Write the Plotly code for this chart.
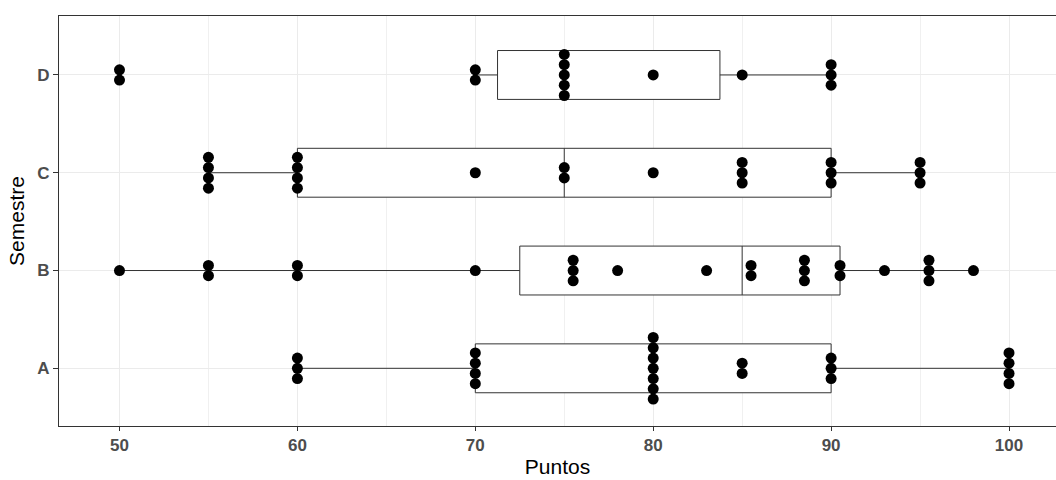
import plotly.graph_objects as go
from collections import Counter

# ---- data ----
semesters = ["A", "B", "C", "D"]

puntos_A = [60]*3 + [70]*4 + [80]*7 + [85]*2 + [90]*3 + [100]*4
puntos_B = [50] + [55]*2 + [60]*2 + [70] + [75.5]*3 + [78] + [83] + [85.5]*2 + [88.5]*3 + [90.5]*2 + [93] + [95.5]*3 + [98]
puntos_C = [55]*4 + [60]*4 + [70] + [75]*2 + [80] + [85]*3 + [90]*3 + [95]*3
puntos_D = [50]*2 + [70]*2 + [75]*5 + [80] + [85] + [90]*3

box_lo  = [60, 50, 55, 70]
box_q1  = [70, 72.5, 60, 71.25]
box_med = [80, 85, 75, 75]
box_q3  = [90, 90.5, 90, 83.75]
box_hi  = [100, 98, 95, 90]

x_ticks = [50, 60, 70, 80, 90, 100]

groups = [puntos_A, puntos_B, puntos_C, puntos_D]
positions = [1, 2, 3, 4]

STACK = 0.105  # vertical spacing between stacked dots (y units)

fig = go.Figure()

fig.add_trace(go.Box(
    y=positions,
    q1=box_q1, median=box_med, q3=box_q3,
    lowerfence=box_lo, upperfence=box_hi,
    orientation="h",
    width=0.5,
    whiskerwidth=0,
    boxpoints=False,
    fillcolor="white",
    line=dict(color="#333333", width=1),
    hoverinfo="skip",
    showlegend=False,
))

dot_x, dot_y = [], []
for pos, vals in zip(positions, groups):
    counts = Counter(vals)
    for v, n in counts.items():
        for k in range(n):
            dot_x.append(v)
            dot_y.append(pos + (k - (n - 1) / 2) * STACK)

fig.add_trace(go.Scatter(
    x=dot_x, y=dot_y, mode="markers",
    marker=dict(color="black", size=11, line=dict(width=0)),
    showlegend=False, hoverinfo="x",
))

tick_font = dict(family="Liberation Sans, Arial, sans-serif", size=17, color="#4d4d4d")
title_font = dict(family="Liberation Sans, Arial, sans-serif", size=21, color="black")

fig.update_layout(
    width=1056, height=480,
    margin=dict(l=59, r=0, t=16, b=54),
    plot_bgcolor="white", paper_bgcolor="white",
    xaxis=dict(
        range=[46.6, 102.64],
        tickvals=x_ticks,
        ticktext=[f"<b>{t}</b>" for t in x_ticks],
        tickfont=tick_font,
        ticks="outside", ticklen=4, tickcolor="#333333", tickwidth=1,
        showgrid=True, gridcolor="#ebebeb", gridwidth=1,
        minor=dict(dtick=5, tick0=45, showgrid=True, gridcolor="#f0f0f0", gridwidth=1, ticks=""),
        showline=True, linecolor="#333333", linewidth=1, mirror=True,
        zeroline=False,
        automargin=False,
        title=dict(text="Puntos", font=title_font, standoff=4),
    ),
    yaxis=dict(
        range=[0.41, 4.603],
        tickvals=positions,
        ticktext=[f"<b>{s}</b>" for s in semesters],
        tickfont=tick_font,
        ticks="outside", ticklen=5, tickcolor="#333333", tickwidth=1,
        showgrid=True, gridcolor="#ebebeb", gridwidth=1,
        showline=True, linecolor="#333333", linewidth=1,
        zeroline=False,
        automargin=False,
        title=dict(text="Semestre", font=title_font, standoff=6),
    ),
)

fig.write_html(
    "out.html",
    config={"displayModeBar": False},
    post_script="document.body.style.margin='0';document.body.style.padding='0';",
)
